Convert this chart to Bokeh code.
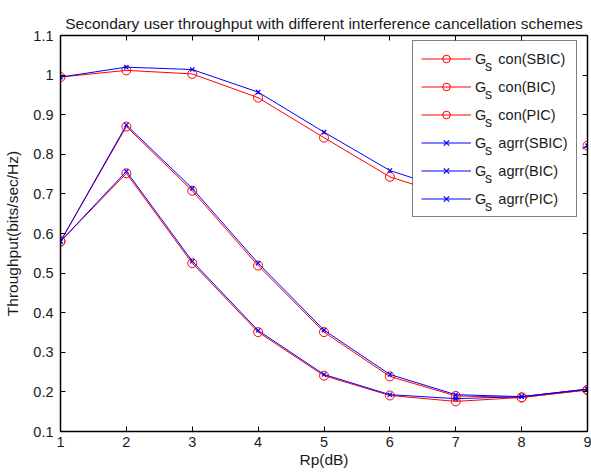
from bokeh.plotting import figure
from bokeh.models import (LinearAxis, FixedTicker, CustomJSTickFormatter, Legend,
                          LegendItem, Range1d, Label, BoxAnnotation)
from bokeh.embed import file_html
from bokeh.resources import INLINE

# ---- data ----
rp_db = [1, 2, 3, 4, 5, 6, 7, 8, 9]
con_sbic = [0.995, 1.012, 1.003, 0.943, 0.842, 0.743, 0.690, 0.720, 0.822]
con_bic = [0.580, 0.870, 0.708, 0.519, 0.351, 0.239, 0.190, 0.186, 0.205]
con_pic = [0.580, 0.752, 0.525, 0.351, 0.241, 0.191, 0.176, 0.186, 0.205]
agrr_sbic = [0.995, 1.020, 1.014, 0.957, 0.856, 0.759, 0.705, 0.732, 0.822]
agrr_bic = [0.580, 0.874, 0.714, 0.525, 0.356, 0.244, 0.193, 0.188, 0.207]
agrr_pic = [0.580, 0.757, 0.530, 0.355, 0.244, 0.193, 0.183, 0.188, 0.207]
# legend labels: "G" + subscript "s" + scheme
legend_base = "G"
legend_sub = "s"
labels_con = ["con(SBIC)", "con(BIC)", "con(PIC)"]
labels_agrr = ["agrr(SBIC)", "agrr(BIC)", "agrr(PIC)"]
x_ticks = [1, 2, 3, 4, 5, 6, 7, 8, 9]
y_ticks = [0.1, 0.2, 0.3, 0.4, 0.5, 0.6, 0.7, 0.8, 0.9, 1.0, 1.1]
title_text = "Secondary user throughput with different interference cancellation schemes"
x_label = "Rp(dB)"
y_label = "Throughput(bits/sec/Hz)"

FONT = "Liberation Sans"
RED = "#ff0000"
BLUE = "#0000ff"
TXT = "#1a1a1a"

FW, FH = 527, 396
X0, X1, Y0, Y1 = 1, 9, 0.1, 1.1
p = figure(frame_width=FW, frame_height=FH, output_backend="svg",
           toolbar_location=None, x_range=Range1d(X0, X1), y_range=Range1d(Y0, Y1),
           min_border_left=60, min_border_right=4, min_border_top=35,
           min_border_bottom=41, title=title_text)
p.background_fill_color = "white"
p.border_fill_color = "white"
p.outline_line_color = "black"
p.outline_line_width = 1
p.grid.visible = False

p.title.text_font = FONT
p.title.text_font_size = "15.5px"
p.title.text_font_style = "normal"
p.title.align = "center"
p.title.text_color = TXT
p.title.standoff = 7

fmt = CustomJSTickFormatter(code="return Number(tick.toFixed(2)).toString();")
blank_fmt = CustomJSTickFormatter(code="return '';")

def style_axis(ax, show_labels=True):
    ax.axis_line_color = "black"
    ax.axis_line_width = 1.5
    ax.major_tick_in = 5
    ax.major_tick_out = 0
    ax.minor_tick_line_color = None
    ax.major_tick_line_color = "black"
    ax.major_label_text_font = FONT
    ax.major_label_text_color = TXT
    ax.axis_label_text_font = FONT
    ax.axis_label_text_font_style = "normal"
    ax.axis_label_text_font_size = "15.5px"
    ax.axis_label_text_color = TXT
    if show_labels:
        ax.major_label_text_font_size = "14.5px"
    else:
        ax.formatter = blank_fmt
        ax.major_label_text_font_size = "1px"
        ax.major_label_standoff = 0

p.xaxis.ticker = FixedTicker(ticks=x_ticks)
p.yaxis.ticker = FixedTicker(ticks=y_ticks)
p.yaxis.formatter = fmt
p.xaxis.axis_label = x_label
p.yaxis.axis_label = y_label
style_axis(p.xaxis[0])
style_axis(p.yaxis[0])
p.xaxis.major_label_standoff = 5
p.xaxis.axis_label_standoff = 1
p.yaxis.major_label_standoff = 7
p.yaxis.axis_label_standoff = 9

top_ax = LinearAxis(ticker=FixedTicker(ticks=x_ticks))
right_ax = LinearAxis(ticker=FixedTicker(ticks=y_ticks))
style_axis(top_ax, False)
style_axis(right_ax, False)
p.add_layout(top_ax, "above")
p.add_layout(right_ax, "right")

LEG_X, LEG_Y = 352, 214
PAD, LH, SP, GW, LS = 8, 19, 9, 50, 4
N_ITEMS = 6
leg_h = 2 * PAD + N_ITEMS * LH + (N_ITEMS - 1) * SP

def dx(px):
    return X0 + px * (X1 - X0) / FW

def dy(px):
    return Y0 + px * (Y1 - Y0) / FH

# opaque white backing behind the (transparent) legend
p.add_layout(BoxAnnotation(left=dx(LEG_X), right=dx(FW - 5), bottom=dy(LEG_Y),
                           top=dy(LEG_Y + leg_h), fill_color="white", fill_alpha=1,
                           line_color=None, level="annotation"))

GAP = "\u00a0\u00a0\u00a0"
items = []
con_series = [con_sbic, con_bic, con_pic]
agrr_series = [agrr_sbic, agrr_bic, agrr_pic]
for ys, lab in zip(con_series, labels_con):
    l = p.line(rp_db, ys, line_color=RED, line_width=1)
    s = p.scatter(rp_db, ys, marker="circle", size=9, fill_color=None,
                  line_color=RED, line_width=1)
    items.append(LegendItem(label=legend_base + GAP + lab, renderers=[l, s]))
for ys, lab in zip(agrr_series, labels_agrr):
    l = p.line(rp_db, ys, line_color=BLUE, line_width=1)
    s = p.scatter(rp_db, ys, marker="x", size=6, line_color=BLUE, line_width=1.2)
    items.append(LegendItem(label=legend_base + GAP + lab, renderers=[l, s]))

# subscript "s" after each "G" in the legend
g_width = 10.5
for i in range(N_ITEMS):
    center_from_top = PAD + LH / 2 + i * (LH + SP)
    sy_px = LEG_Y + leg_h - center_from_top - 5.5
    sx_px = LEG_X + PAD + GW + LS + g_width
    p.add_layout(Label(x=dx(sx_px), y=dy(sy_px), text=legend_sub, text_font=FONT,
                       text_font_size="14px", text_color=TXT,
                       text_baseline="middle", text_align="left"))

legend = Legend(items=items, location=(LEG_X, LEG_Y), padding=PAD,
                spacing=SP, label_height=LH, glyph_height=LH, glyph_width=GW,
                label_standoff=LS, border_line_color="black", border_line_width=1,
                background_fill_color=None, background_fill_alpha=0,
                label_text_font=FONT, label_text_font_size="14.5px",
                label_text_color=TXT)
p.add_layout(legend, "center")

open("out.html", "w").write(file_html(p, INLINE))
